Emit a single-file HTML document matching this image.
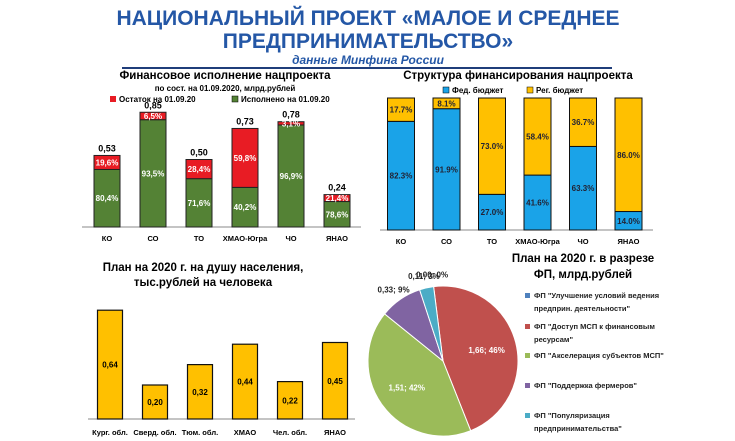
<!DOCTYPE html>
<html><head><meta charset="utf-8"><style>
body{margin:0;background:#fff;width:735px;height:441px;overflow:hidden;font-family:"Liberation Sans",sans-serif}
svg{display:block}
text{font-family:"Liberation Sans",sans-serif}
</style></head><body>
<svg id="s" width="735" height="441" viewBox="0 0 735 441" xmlns="http://www.w3.org/2000/svg">
<text x="368" y="25" text-anchor="middle" font-size="21" font-weight="bold" fill="#2457a6">НАЦИОНАЛЬНЫЙ ПРОЕКТ «МАЛОЕ И СРЕДНЕЕ</text>
<text x="368" y="48" text-anchor="middle" font-size="21" font-weight="bold" fill="#2457a6">ПРЕДПРИНИМАТЕЛЬСТВО»</text>
<text x="368" y="64" text-anchor="middle" font-size="12" font-weight="bold" font-style="italic" fill="#2457a6">данные Минфина России</text>
<line x1="122" y1="68" x2="612" y2="68" stroke="#1f3d7a" stroke-width="2"/>

<text x="225" y="79" text-anchor="middle" font-size="11.5" font-weight="bold">Финансовое исполнение нацпроекта</text>
<text x="225" y="91" text-anchor="middle" font-size="8" font-weight="bold">по сост. на 01.09.2020, млрд.рублей</text>
<g>
<rect x="110" y="96" width="6" height="6" fill="#e81c24"/>
<text x="119" y="102" font-size="8" font-weight="bold">Остаток на 01.09.20</text>
<rect x="232" y="96" width="6" height="6" fill="#548235" stroke="#000" stroke-width=".5"/>
<text x="241" y="102" font-size="8" font-weight="bold">Исполнено на 01.09.20</text>
</g>
<g id="c1"></g>

<text x="518" y="79" text-anchor="middle" font-size="11.5" font-weight="bold">Структура финансирования нацпроекта</text>
<g>
<rect x="443" y="87" width="6" height="6" fill="#1aa3e8" stroke="#000" stroke-width=".5"/>
<text x="452" y="93" font-size="8" font-weight="bold">Фед. бюджет</text>
<rect x="527" y="87" width="6" height="6" fill="#ffc000" stroke="#000" stroke-width=".5"/>
<text x="536" y="93" font-size="8" font-weight="bold">Рег. бюджет</text>
</g>
<g id="c2"></g>

<text x="203" y="271" text-anchor="middle" font-size="11.5" font-weight="bold">План на 2020 г. на душу населения,</text>
<text x="203" y="286" text-anchor="middle" font-size="11.5" font-weight="bold">тыс.рублей на человека</text>
<g id="c3"></g>

<text x="583" y="262" text-anchor="middle" font-size="11.5" font-weight="bold">План на 2020 г. в разрезе</text>
<text x="583" y="278" text-anchor="middle" font-size="11.5" font-weight="bold">ФП, млрд.рублей</text>
<g id="c4"></g>
</svg>
<script>
const NS="http://www.w3.org/2000/svg";
function mk(p,t,a){const e=document.createElementNS(NS,t);for(const k in a)e.setAttribute(k,a[k]);p.appendChild(e);return e;}

// Chart 1
const c1Cats=["КО","СО","ТО","ХМАО-Югра","ЧО","ЯНАО"];
const c1Totals=[0.53,0.85,0.50,0.73,0.78,0.24];
const c1Done=[80.4,93.5,71.6,40.2,96.9,78.6];
const c1Remain=[19.6,6.5,28.4,59.8,3.1,21.4];
const c1TotLabels=["0,53","0,85","0,50","0,73","0,78","0,24"];

// Chart 2
const c2Cats=["КО","СО","ТО","ХМАО-Югра","ЧО","ЯНАО"];
const c2Fed=[82.3,91.9,27.0,41.6,63.3,14.0];
const c2Reg=[17.7,8.1,73.0,58.4,36.7,86.0];

// Chart 3
const c3Cats=["Кург. обл.","Сверд. обл.","Тюм. обл.","ХМАО","Чел. обл.","ЯНАО"];
const c3Vals=[0.64,0.20,0.32,0.44,0.22,0.45];

// Pie
const pieNames=['ФП "Доступ МСП к финансовым|ресурсам"','ФП "Акселерация субъектов МСП"','ФП "Поддержка фермеров"','ФП "Популяризация|предпринимательства"','ФП "Улучшение условий ведения|предприн. деятельности"'];
const pieVals=[1.66,1.51,0.33,0.11,0.0];
const piePct=[46,42,9,3,0];
const legendOrder=['ФП "Улучшение условий ведения|предприн. деятельности"','ФП "Доступ МСП к финансовым|ресурсам"','ФП "Акселерация субъектов МСП"','ФП "Поддержка фермеров"','ФП "Популяризация|предпринимательства"'];
const pieColors=["#c0504d","#9bbb59","#8064a2","#4bacc6","#4f81bd"];
const legendColors=["#4f81bd","#c0504d","#9bbb59","#8064a2","#4bacc6"];

const fmt=v=>v.toFixed(1).replace('.',',')+'%';

// chart1
(function(){
const g=document.getElementById('c1');
const base=227, k=135, x0=107, step=46, w=26;
const X=i=>x0+i*step, Y=v=>base-v*k;
mk(g,'line',{x1:82,y1:base,x2:361,y2:base,stroke:'#888','stroke-width':1,});
c1Cats.forEach((c,i)=>{
 const tot=c1Totals[i], hd=tot*c1Done[i]/100, hr=tot*c1Remain[i]/100;
 const d=mk(g,'rect',{x:X(i)-w/2,y:Y(hd),width:w,height:hd*k,fill:'#548235',stroke:'#222','stroke-width':1});
 
 
 const r=mk(g,'rect',{x:X(i)-w/2,y:Y(tot),width:w,height:hr*k,fill:'#e81c24',stroke:'#222','stroke-width':1});
 
 
 const t1=mk(g,'text',{x:X(i),y:Y(hd/2)+3,'text-anchor':'middle','font-size':8,'font-weight':'bold',fill:'#fff'});t1.textContent=fmt(c1Done[i]);
 
 
 const t2=mk(g,'text',{x:X(i),y:Y(tot-hr/2)+3,'text-anchor':'middle','font-size':8,'font-weight':'bold',fill:'#fff'});t2.textContent=fmt(c1Remain[i]);
 
 
 const t3=mk(g,'text',{x:X(i),y:Y(tot)-4,'text-anchor':'middle','font-size':9,'font-weight':'bold'});t3.textContent=c1TotLabels[i];
 
 
 const t4=mk(g,'text',{x:X(i),y:241,'text-anchor':'middle','font-size':7.5,'font-weight':'bold'});t4.textContent=c;
 
 
});
})();

// chart2
(function(){
const g=document.getElementById('c2');
const base=230, top=98, H=base-top, x0=401, step=45.5, w=27;
const X=i=>x0+i*step, Y=p=>base-p/100*H;
mk(g,'line',{x1:380,y1:base,x2:653,y2:base,stroke:'#888','stroke-width':1,});
c2Cats.forEach((c,i)=>{
 const f=mk(g,'rect',{x:X(i)-w/2,y:Y(c2Fed[i]),width:w,height:c2Fed[i]/100*H,fill:'#1aa3e8',stroke:'#111','stroke-width':1});
 
 
 const r=mk(g,'rect',{x:X(i)-w/2,y:Y(c2Fed[i]+c2Reg[i]),width:w,height:c2Reg[i]/100*H,fill:'#ffc000',stroke:'#111','stroke-width':1});
 
 
 const t1=mk(g,'text',{x:X(i),y:Y(c2Fed[i]/2)+3,'text-anchor':'middle','font-size':8,'font-weight':'bold',fill:'#223'});t1.textContent=c2Fed[i].toFixed(1)+'%';
 
 
 const t2=mk(g,'text',{x:X(i),y:Y(c2Fed[i]+c2Reg[i]/2)+3,'text-anchor':'middle','font-size':8,'font-weight':'bold',fill:'#223'});t2.textContent=c2Reg[i].toFixed(1)+'%';
 
 
 const t4=mk(g,'text',{x:X(i),y:244,'text-anchor':'middle','font-size':7.5,'font-weight':'bold'});t4.textContent=c;
 
 
});
})();

// chart3
(function(){
const g=document.getElementById('c3');
const base=419, k=170, x0=110, step=45, w=25;
const X=i=>x0+i*step, Y=v=>base-v*k;
mk(g,'line',{x1:88,y1:base,x2:355,y2:base,stroke:'#888','stroke-width':1,});
c3Cats.forEach((c,i)=>{
 const b=mk(g,'rect',{x:X(i)-w/2,y:Y(c3Vals[i]),width:w,height:c3Vals[i]*k,fill:'#ffc000',stroke:'#111','stroke-width':1.2});
 
 
 const t=mk(g,'text',{x:X(i),y:Y(c3Vals[i]/2)+3,'text-anchor':'middle','font-size':8,'font-weight':'bold'});t.textContent=c3Vals[i].toFixed(2).replace('.',',');
 
 
 const l=mk(g,'text',{x:X(i),y:435,'text-anchor':'middle','font-size':7.5,'font-weight':'bold'});l.textContent=c;
 
 
});
})();

// pie
(function(){
const g=document.getElementById('c4');
const cx=443, cy=361, r=75;
const tot=pieVals.reduce((a,b)=>a+b,0);
let a=-0.02;
const pt=(ang,rr)=>[cx+rr*Math.sin(ang*2*Math.PI), cy-rr*Math.cos(ang*2*Math.PI)];
pieVals.forEach((v,i)=>{
 const f=v/tot;
 if(f>0){
 const [x1,y1]=pt(a,r),[x2,y2]=pt(a+f,r);
 const p=mk(g,'path',{d:`M${cx},${cy}L${x1},${y1}A${r},${r} 0 ${f>0.5?1:0} 1 ${x2},${y2}Z`,fill:pieColors[i],stroke:'#fff','stroke-width':1});
 
 
 }
 const mid=a+f/2;
 let lx,ly,col='#fff';
 if(f>0.2){[lx,ly]=pt(mid,r*0.6);}
 else {[lx,ly]=pt(mid,r+12);col='#222';}
 const t=mk(g,'text',{x:lx,y:ly+3,'text-anchor':'middle','font-size':8,'font-weight':'bold',fill:col});
 t.textContent=v.toFixed(2).replace('.',',')+'; '+piePct[i]+'%';
 
 
 a+=f;
});
const ly=[298,329,358,388,418];
legendOrder.forEach((n,i)=>{
 const s=mk(g,'rect',{x:525,y:ly[i]-5,width:5,height:5,fill:legendColors[i]});
 
 
 n.split('|').forEach((ln,j)=>{
  const t=mk(g,'text',{x:534,y:ly[i]+j*13,'font-size':7.5,'font-weight':'bold',fill:'#222'});t.textContent=ln;
  
  
 });
});
})();
</script>
</body></html>
